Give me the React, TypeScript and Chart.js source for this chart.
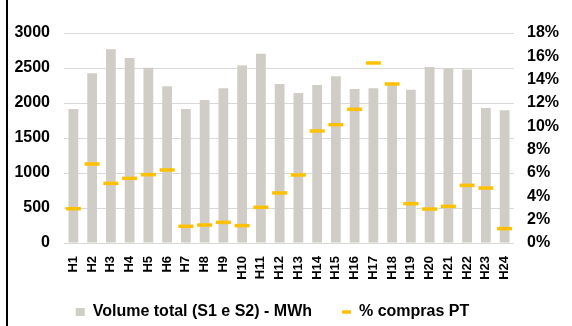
import React, { useEffect, useRef } from "react";
import { Chart, registerables } from "chart.js";

Chart.register(...registerables);

const hours = ["H1","H2","H3","H4","H5","H6","H7","H8","H9","H10","H11","H12","H13","H14","H15","H16","H17","H18","H19","H20","H21","H22","H23","H24"];
const volumeMWh = [1915, 2425, 2767, 2643, 2505, 2238, 1915, 2043, 2210, 2534, 2705, 2272, 2143, 2257, 2382, 2200, 2210, 2257, 2191, 2515, 2495, 2477, 1929, 1896];
const comprasPT = [2.94, 6.77, 5.11, 5.54, 5.86, 6.26, 1.43, 1.54, 1.77, 1.49, 3.06, 4.29, 5.83, 9.6, 10.14, 11.46, 15.43, 13.63, 3.37, 2.91, 3.14, 4.94, 4.71, 1.23];
const volumeLabel = "Volume total (S1 e S2) - MWh";
const pctLabel = "% compras PT";

const FONT = "'Liberation Sans', Arial, sans-serif";

const legendPlace = {
  id: "legendPlace",
  afterLayout(chart: any) {
    const lg = chart.legend;
    if (lg) {
      lg.right = lg.right - 27;
      lg.top = 274;
      lg.bottom = 326;
      lg.height = 52;
    }
  },
};

export default function App() {
  const ref = useRef<HTMLCanvasElement | null>(null);
  useEffect(() => {
    if (!ref.current) return;
    const chart = new Chart(ref.current, {
      type: "bar",
      data: {
        labels: hours,
        datasets: [
          {
            type: "line",
            label: pctLabel,
            data: comprasPT,
            yAxisID: "y1",
            showLine: false,
            pointStyle: "line",
            pointRadius: 7.5,
            pointHoverRadius: 7.5,
            borderColor: "#FFC000",
            backgroundColor: "#FFC000",
            borderWidth: 3.5,
          } as any,
          {
            type: "bar",
            label: volumeLabel,
            data: volumeMWh,
            yAxisID: "y",
            backgroundColor: "#D0CCC6",
            borderWidth: 0,
            barPercentage: 0.52,
            categoryPercentage: 1,
            pointStyle: "rect",
          } as any,
        ],
      },
      options: {
        responsive: false,
        animation: false,
        layout: { padding: { top: 33, left: 0, right: 0, bottom: 0 } },
        plugins: {
          tooltip: { enabled: false },
          legend: {
            position: "bottom",
            maxHeight: 40,
            labels: {
              usePointStyle: true,
              pointStyleWidth: 9,
              boxWidth: 9,
              boxHeight: 8,
              padding: 30,
              color: "#000",
              font: { family: FONT, size: 16, weight: "bold" },
              sort: (a: any, b: any) => b.datasetIndex - a.datasetIndex,
            },
          },
        },
        scales: {
          x: {
            grid: { display: false, drawTicks: false },
            border: { display: false },
            ticks: {
              minRotation: 90,
              maxRotation: 90,
              autoSkip: false,
              padding: 13,
              color: "#000",
              font: { family: FONT, size: 13, weight: "bold" },
            },
            afterFit: (axis: any) => {
              axis.height = 43;
            },
          },
          y: {
            position: "left",
            min: 0,
            max: 3000,
            ticks: {
              stepSize: 500,
              padding: 14,
              color: "#000",
              font: { family: FONT, size: 16, weight: "bold" },
              callback: (v: any) => String(Math.round(Number(v))),
            },
            grid: { color: "#D9D9D9", lineWidth: 1, drawTicks: false },
            border: { display: false },
            afterFit: (axis: any) => {
              axis.width = 64;
            },
          },
          y1: {
            position: "right",
            min: 0,
            max: 18,
            ticks: {
              stepSize: 2,
              padding: 13,
              color: "#000",
              font: { family: FONT, size: 16, weight: "bold" },
              callback: (v: any) => `${Math.round(Number(v))}%`,
            },
            grid: { display: false, drawTicks: false },
            border: { display: false },
            afterFit: (axis: any) => {
              axis.width = 58;
            },
          },
        },
      },
      plugins: [legendPlace],
    } as any);
    return () => chart.destroy();
  }, []);

  return (
    <div style={{ position: "fixed", left: 0, top: 0, width: 572, height: 326, background: "#fff" }}>
      <canvas ref={ref} width={572} height={326} style={{ display: "block", width: 572, height: 326 }} />
      <div style={{ position: "absolute", left: 6, top: 0, width: 2, height: 326, background: "#000" }} />
    </div>
  );
}
